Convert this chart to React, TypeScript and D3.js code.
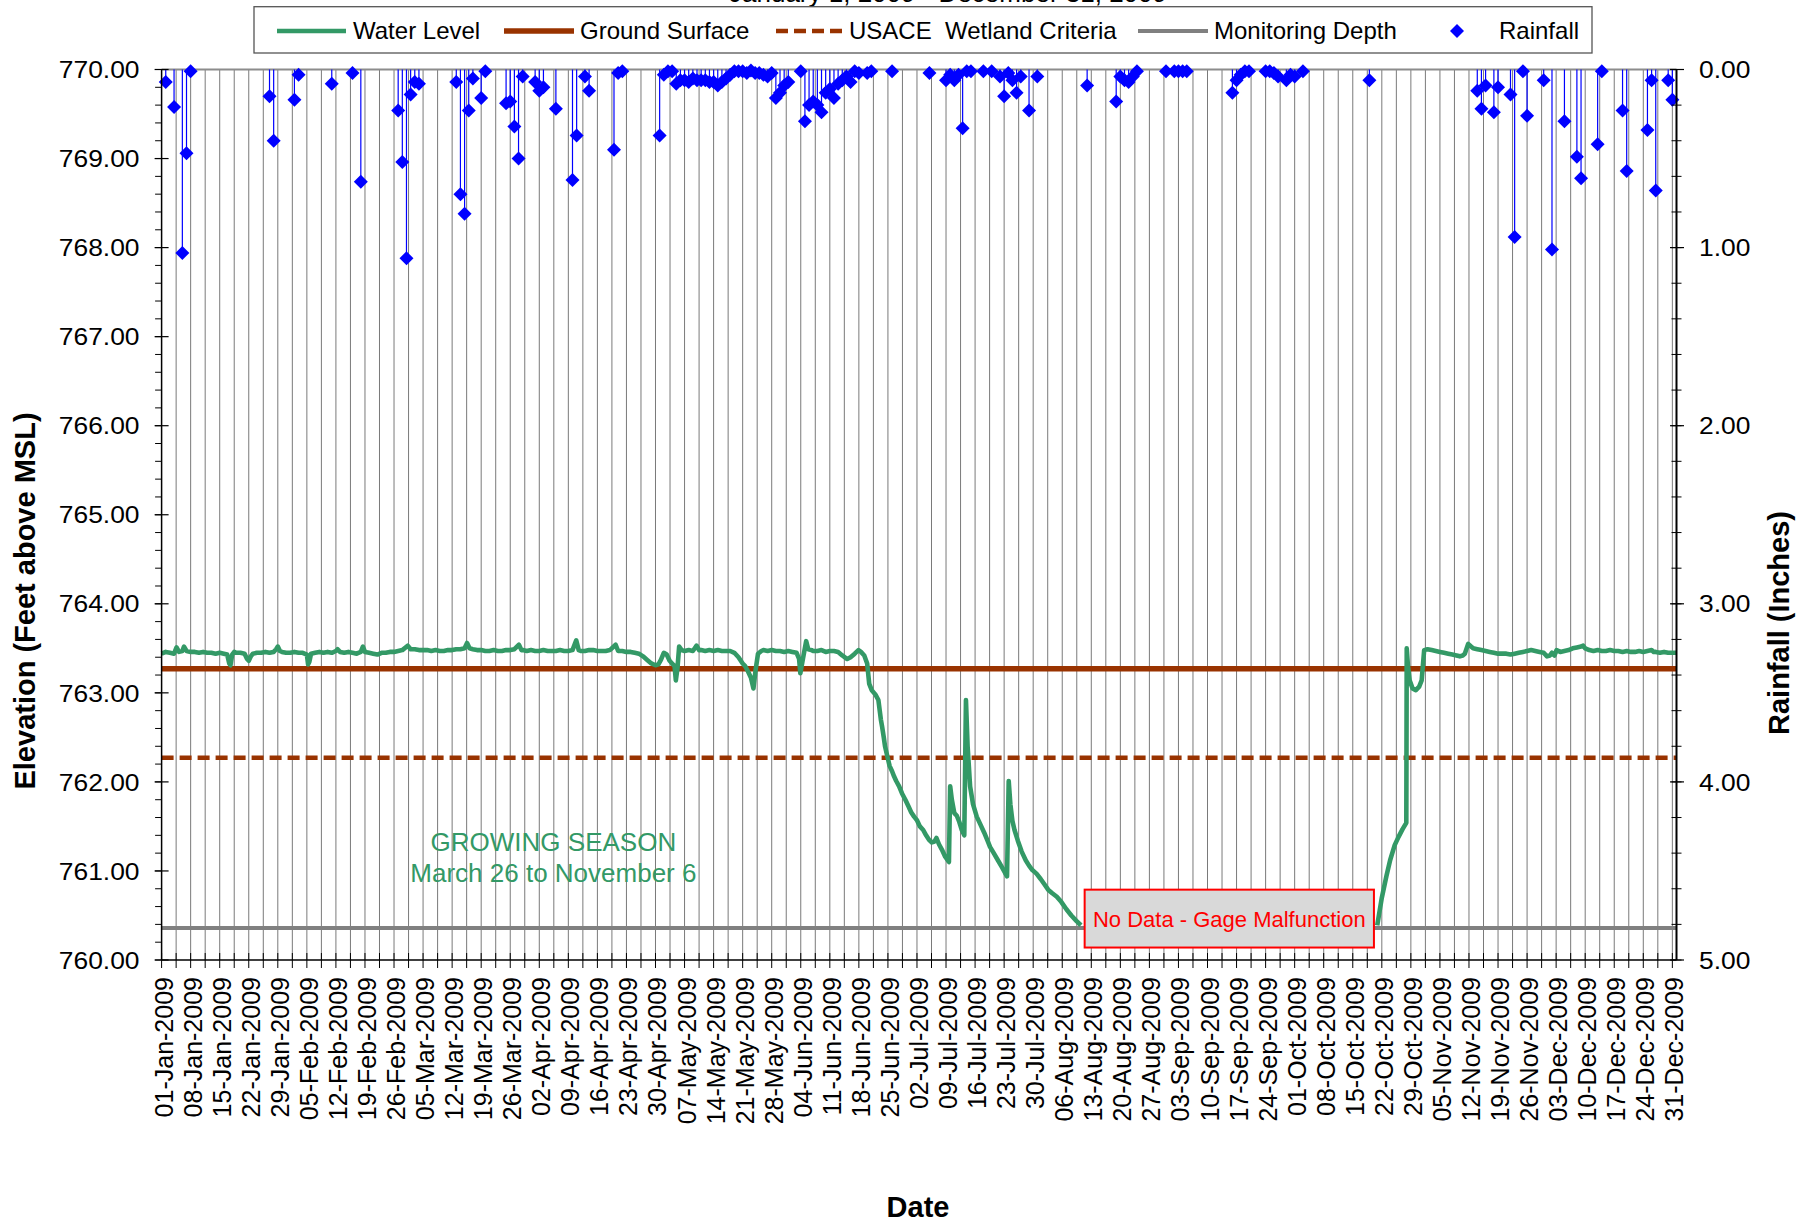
import React from "react";
import * as d3 from "d3";

const FONT = "'Liberation Sans', Arial, Helvetica, sans-serif";

// ---------- data ----------
// Reference elevations (feet above MSL)
const groundSurface = 763.27;
const wetlandCriteria = 762.27;
const monitoringDepth = 760.36;

// Water level: [day of year (0 = 01-Jan-2009), elevation]
const waterLevelBeforeGap: [number, number][] = [
  [0, 763.44], [1, 763.46], [2, 763.45], [3, 763.44], [3.6, 763.51], [4.2, 763.46], [5, 763.47], [5.4, 763.52],
  [6, 763.47], [7, 763.46], [8, 763.46], [9, 763.45], [10, 763.46], [11, 763.45], [12, 763.45], [13, 763.44],
  [14, 763.45], [15, 763.44], [15.8, 763.43], [16.3, 763.33], [16.6, 763.31], [17, 763.43], [17.5, 763.46],
  [18, 763.45], [19, 763.45], [20, 763.44], [20.6, 763.38], [21, 763.36], [21.5, 763.41], [22, 763.44],
  [23, 763.45], [24, 763.45], [25, 763.46], [26, 763.45], [27, 763.46], [27.6, 763.49], [28, 763.52],
  [28.5, 763.47], [29, 763.46], [30, 763.45], [31, 763.45], [32, 763.46], [33, 763.45], [34, 763.45],
  [35, 763.43], [35.3, 763.32], [35.6, 763.35], [36, 763.44], [37, 763.45], [38, 763.46], [39, 763.45],
  [40, 763.46], [41, 763.45], [42, 763.47], [42.4, 763.49], [43, 763.46], [44, 763.45], [45, 763.46],
  [46, 763.45], [47, 763.44], [48, 763.46], [48.5, 763.52], [49, 763.46], [50, 763.45], [51, 763.44],
  [52, 763.43], [53, 763.45], [54, 763.45], [55, 763.46], [56, 763.46], [57, 763.47], [58, 763.48],
  [59.3, 763.53], [60, 763.49], [61, 763.49], [62, 763.48], [63, 763.48], [64, 763.48], [65, 763.47],
  [66, 763.48], [67, 763.47], [68, 763.47], [69, 763.48], [70, 763.48], [71, 763.49], [72, 763.49],
  [73, 763.5], [73.6, 763.56], [74.2, 763.5], [75, 763.49], [76, 763.48], [77, 763.48], [78, 763.47],
  [79, 763.47], [80, 763.48], [81, 763.47], [82, 763.47], [83, 763.48], [84, 763.48], [85, 763.49],
  [86.1, 763.54], [86.7, 763.48], [87, 763.48], [88, 763.47], [89, 763.48], [90, 763.47], [91, 763.47],
  [92, 763.48], [93, 763.47], [94, 763.47], [95, 763.47], [96, 763.48], [97, 763.47], [98, 763.47],
  [99, 763.48], [99.9, 763.59], [100.5, 763.48], [101, 763.47], [102, 763.47], [103, 763.48], [104, 763.48],
  [105, 763.47], [106, 763.47], [107, 763.47], [108, 763.48], [109.4, 763.54], [110, 763.47], [111, 763.47],
  [112, 763.46], [113, 763.46], [114, 763.45], [115, 763.44], [116, 763.41], [117, 763.37], [118, 763.33],
  [119, 763.31], [119.7, 763.32], [120.3, 763.37], [121, 763.45], [121.7, 763.43], [122.4, 763.36],
  [123, 763.33], [123.6, 763.3], [123.9, 763.14], [124.3, 763.28], [124.7, 763.52], [125.3, 763.48],
  [126, 763.47], [127, 763.48], [128, 763.47], [128.9, 763.53], [129.5, 763.48], [130, 763.48], [131, 763.47],
  [132, 763.48], [133, 763.47], [134, 763.48], [135, 763.47], [136, 763.47], [137, 763.47], [138, 763.45],
  [139, 763.4], [140, 763.33], [140.6, 763.3], [141.3, 763.24], [142, 763.17], [142.6, 763.05], [143.1, 763.25],
  [143.7, 763.44], [144.5, 763.47], [145, 763.48], [146, 763.47], [147, 763.48], [148, 763.47], [149, 763.47],
  [150, 763.46], [151, 763.47], [152, 763.46], [153, 763.45], [153.6, 763.38], [153.9, 763.22], [154.4, 763.35],
  [155.3, 763.58], [155.8, 763.49], [156.6, 763.48], [157, 763.47], [158, 763.47], [159, 763.48], [160, 763.46],
  [161, 763.47], [162, 763.47], [163, 763.46], [164, 763.42], [165.2, 763.38], [166, 763.4], [167, 763.44],
  [167.9, 763.48], [168.5, 763.46], [169.3, 763.42], [170, 763.33], [170.5, 763.1], [171.1, 763.03],
  [172, 762.98], [172.7, 762.92], [173.3, 762.7], [173.6, 762.62], [174, 762.5], [174.3, 762.4], [174.8, 762.3],
  [175.4, 762.18], [176, 762.12], [176.5, 762.06], [177, 762.01], [177.7, 761.95], [178.4, 761.87],
  [179.2, 761.8], [180, 761.72], [180.6, 761.66], [181.3, 761.61], [182, 761.57], [182.7, 761.5],
  [183.5, 761.46], [184.2, 761.4], [184.9, 761.35], [185.6, 761.32], [186.2, 761.33], [186.7, 761.37],
  [187.3, 761.3], [188, 761.24], [188.8, 761.16], [189.7, 761.1], [190.0, 761.95], [190.4, 761.8],
  [191, 761.65], [191.6, 761.62], [192.2, 761.55], [192.8, 761.46], [193.4, 761.4], [193.8, 762.92],
  [194.2, 762.4], [194.8, 761.95], [195.5, 761.75], [196.4, 761.61], [197.3, 761.52], [198.2, 761.43],
  [199, 761.34], [199.6, 761.27], [200.5, 761.2], [201.5, 761.12], [202.5, 761.04], [203.2, 760.98],
  [203.7, 760.94], [204.1, 762.01], [204.5, 761.75], [205, 761.56], [205.5, 761.46], [206.3, 761.34],
  [207.2, 761.22], [208.2, 761.12], [209, 761.06], [209.8, 761.01], [210.8, 760.97], [211.8, 760.91],
  [212.7, 760.85], [213.6, 760.79], [214.6, 760.75], [215.7, 760.71], [216.8, 760.65], [218, 760.57],
  [219.2, 760.5], [220.4, 760.44], [221.5, 760.39],
];

const waterLevelAfterGap: [number, number][] = [
  [292.9, 760.39], [294, 760.7], [295.1, 760.94], [296, 761.12], [297.1, 761.29], [298, 761.38], [299, 761.47],
  [299.9, 761.54], [300.0, 763.5], [300.3, 763.3], [300.7, 763.14], [301.4, 763.05], [302.2, 763.03],
  [303, 763.07], [303.6, 763.14], [304.2, 763.48], [305, 763.49], [306, 763.48], [307, 763.47], [308, 763.46],
  [309, 763.45], [310, 763.44], [311, 763.43], [312, 763.42], [312.8, 763.41], [313.5, 763.42], [314, 763.44],
  [314.8, 763.55], [315.5, 763.52], [316, 763.5], [317, 763.49], [318, 763.48], [319, 763.47], [320, 763.46],
  [321, 763.45], [322, 763.44], [323, 763.44], [324, 763.44], [325, 763.43], [326, 763.44], [327, 763.45],
  [328, 763.46], [329, 763.47], [330, 763.48], [331, 763.47], [332, 763.46], [333, 763.45], [333.8, 763.41],
  [334.5, 763.42], [335, 763.45], [335.6, 763.42], [336.1, 763.48], [337, 763.46], [338, 763.47],
  [339, 763.48], [340, 763.5], [341, 763.51], [342, 763.52], [342.5, 763.53], [343, 763.5], [344, 763.48],
  [345, 763.47], [346, 763.48], [347, 763.47], [348, 763.47], [349, 763.48], [350, 763.47], [351, 763.47],
  [352, 763.46], [353, 763.47], [354, 763.46], [355, 763.46], [356, 763.47], [357, 763.46], [358, 763.47],
  [359, 763.48], [359.5, 763.46], [360, 763.46], [361, 763.45], [362, 763.46], [363, 763.45], [364, 763.45],
  [365, 763.45],
];

// Daily rainfall: [day of year, inches]
const rainfall: [number, number][] = [
  [1, 0.07], [3, 0.21], [5, 1.03], [6, 0.47], [7, 0.01], [26, 0.15], [27, 0.4], [32, 0.17], [33, 0.03],
  [41, 0.08], [46, 0.02], [48, 0.63], [57, 0.23], [58, 0.52], [59, 1.06], [60, 0.14], [61, 0.07], [62, 0.08],
  [71, 0.07], [72, 0.7], [73, 0.81], [74, 0.23], [75, 0.05], [77, 0.16], [78, 0.01], [83, 0.19], [84, 0.18],
  [85, 0.32], [86, 0.5], [87, 0.04], [90, 0.07], [91, 0.12], [92, 0.1], [95, 0.22], [99, 0.62], [100, 0.37],
  [102, 0.04], [103, 0.12], [109, 0.45], [110, 0.02], [111, 0.01],
  [120, 0.37], [121, 0.03], [122, 0.01], [123, 0.01], [124, 0.08], [125, 0.06], [126, 0.06], [127, 0.07],
  [128, 0.05], [129, 0.06], [130, 0.06], [131, 0.06], [132, 0.07], [133, 0.07], [134, 0.09], [135, 0.07],
  [136, 0.05], [137, 0.03], [138, 0.01], [139, 0.01], [140, 0.01], [141, 0.02], [142, 0.005], [143, 0.02],
  [144, 0.02], [145, 0.03], [146, 0.04], [147, 0.02], [148, 0.16], [149, 0.13], [150, 0.09], [151, 0.07],
  [154, 0.01], [155, 0.29], [156, 0.2], [157, 0.18], [158, 0.2], [159, 0.24], [160, 0.13], [161, 0.11],
  [162, 0.16], [163, 0.08], [164, 0.06], [165, 0.04], [166, 0.07], [167, 0.01], [168, 0.02], [170, 0.02],
  [171, 0.01], [176, 0.01], [185, 0.02],
  [189, 0.06], [190, 0.03], [191, 0.06], [192, 0.03], [193, 0.33], [194, 0.01], [195, 0.01], [198, 0.01],
  [200, 0.01], [202, 0.04], [203, 0.15], [204, 0.02], [205, 0.06], [206, 0.13], [207, 0.04], [209, 0.23],
  [211, 0.04], [223, 0.09], [230, 0.18], [231, 0.04], [232, 0.06], [233, 0.07], [234, 0.04], [235, 0.01],
  [242, 0.01], [244, 0.01], [245, 0.01], [246, 0.01], [247, 0.01], [258, 0.13], [259, 0.06], [260, 0.03],
  [261, 0.01], [262, 0.01], [266, 0.01], [267, 0.01], [268, 0.02], [269, 0.04], [271, 0.06], [272, 0.03],
  [273, 0.04], [275, 0.01], [291, 0.06],
  [317, 0.12], [318, 0.22], [319, 0.09], [321, 0.24], [322, 0.1], [325, 0.14], [326, 0.94], [328, 0.01],
  [329, 0.26], [333, 0.06], [335, 1.01], [338, 0.29], [341, 0.49], [342, 0.61], [346, 0.42], [347, 0.01],
  [352, 0.23], [353, 0.57], [358, 0.34], [359, 0.06], [360, 0.68], [363, 0.06], [364, 0.17],
];

// Axis ticks
const elevationTicks = d3.range(760, 770.001, 1);
const elevationMinorTicks = d3.range(760, 770.001, 0.2);
const rainTicks = d3.range(0, 5.001, 1);
const rainMinorTicks = d3.range(0, 5.001, 0.2);
const dayGridTicks = d3.range(0, 364.01, 3.5);
const dayLabelTicks = d3.range(0, 364.01, 7);
const startDate = new Date(2009, 0, 1);

// Annotations (in data units)
const noDataBox = { fromDay: 222.4, toDay: 292.1, top: 760.79, bottom: 760.14, text: "No Data - Gage Malfunction" };
const growingSeason = { day: 94.4, lines: ["GROWING SEASON", "March 26 to November 6"], y1: 761.227, y2: 760.879 };

const legendItems = ["Water Level", "Ground Surface", "USACE  Wetland Criteria", "Monitoring Depth", "Rainfall"];

const GREEN = "#339966";
const BROWN = "#993300";
const GRAY = "#808080";
const BLUE = "#0000ff";

const diamond = (r: number) => `M0,${-r}L${r},0L0,${r}L${-r},0Z`;

export default function App() {
  const x = d3.scaleLinear().domain([0, 365]).range([161.6, 1676.5]);
  const yL = d3.scaleLinear().domain([760, 770]).range([960, 69.5]);
  const yR = d3.scaleLinear().domain([0, 5]).range([69.5, 960]);
  const line = d3
    .line<[number, number]>()
    .x((d) => x(d[0]))
    .y((d) => yL(d[1]));
  const fmt = d3.timeFormat("%d-%b-%Y");
  const [x0, x1] = x.range();
  const yTop = yL(770);
  const yBot = yL(760);

  return (
    <svg
      width={1812}
      height={1225}
      style={{ position: "absolute", left: 0, top: 0, background: "#fff" }}
      fontFamily={FONT}
    >
      <rect x={0} y={0} width={1812} height={1225} fill="#fff" />
      {/* title (clipped at top, as in the original) */}
      <text x={948} y={2} fontSize={26} textAnchor="middle" fill="#000">
        January 1, 2009 - December 31, 2009
      </text>

      {/* vertical gridlines */}
      {dayGridTicks.slice(1).map((d) => (
        <line key={"g" + d} x1={x(d)} x2={x(d)} y1={yTop} y2={yBot} stroke="#7a7a7a" strokeWidth={1} />
      ))}
      {/* top border */}
      <line x1={x0} x2={x1} y1={yTop} y2={yTop} stroke="#8c8c8c" strokeWidth={2.2} />

      {/* reference lines */}
      <line x1={x0} x2={x1} y1={yL(monitoringDepth)} y2={yL(monitoringDepth)} stroke={GRAY} strokeWidth={4} />
      <line
        x1={x0}
        x2={x1}
        y1={yL(wetlandCriteria)}
        y2={yL(wetlandCriteria)}
        stroke={BROWN}
        strokeWidth={4.5}
        strokeDasharray="12 6"
      />
      <line x1={x0} x2={x1} y1={yL(groundSurface)} y2={yL(groundSurface)} stroke={BROWN} strokeWidth={5.5} />

      {/* water level */}
      <path d={line(waterLevelBeforeGap) || ""} fill="none" stroke={GREEN} strokeWidth={4.6} strokeLinejoin="round" />
      <path d={line(waterLevelAfterGap) || ""} fill="none" stroke={GREEN} strokeWidth={4.6} strokeLinejoin="round" />

      {/* rainfall stems + diamonds */}
      {rainfall.map(([d, r]) => (
        <line key={"s" + d} x1={x(d)} x2={x(d)} y1={yR(0)} y2={yR(r)} stroke={BLUE} strokeWidth={1.2} />
      ))}
      {rainfall.map(([d, r]) => (
        <path key={"p" + d} d={diamond(7)} transform={`translate(${x(d)},${yR(r)})`} fill={BLUE} />
      ))}

      {/* axes */}
      <line x1={x0} x2={x0} y1={yTop} y2={yBot} stroke="#000" strokeWidth={1.5} />
      <line x1={x1} x2={x1} y1={yTop} y2={yBot} stroke="#000" strokeWidth={2} />
      <line x1={x0} x2={x1} y1={yBot} y2={yBot} stroke="#000" strokeWidth={1.5} />

      {/* left ticks */}
      {elevationMinorTicks.map((v) => (
        <line key={"lm" + v} x1={x0 - 6.5} x2={x0} y1={yL(v)} y2={yL(v)} stroke="#000" strokeWidth={1} />
      ))}
      {elevationTicks.map((v) => (
        <g key={"l" + v}>
          <line x1={x0 - 7} x2={x0 + 7} y1={yL(v)} y2={yL(v)} stroke="#000" strokeWidth={1.2} />
          <text
            transform={`translate(139.5,${yL(v)}) scale(1.1,1)`}
            dy="0.36em"
            textAnchor="end"
            fontSize={24}
            fill="#000"
          >
            {v.toFixed(2)}
          </text>
        </g>
      ))}

      {/* right ticks */}
      {rainMinorTicks.map((v) => (
        <line key={"rm" + v} x1={x1 - 5} x2={x1 + 5} y1={yR(v)} y2={yR(v)} stroke="#000" strokeWidth={1} />
      ))}
      {rainTicks.map((v) => (
        <g key={"r" + v}>
          <line x1={x1 - 6.5} x2={x1 + 7.5} y1={yR(v)} y2={yR(v)} stroke="#000" strokeWidth={1.2} />
          <text
            transform={`translate(1699,${yR(v)}) scale(1.1,1)`}
            dy="0.36em"
            textAnchor="start"
            fontSize={24}
            fill="#000"
          >
            {v.toFixed(2)}
          </text>
        </g>
      ))}

      {/* bottom ticks */}
      {dayGridTicks.map((d) => (
        <line key={"b" + d} x1={x(d)} x2={x(d)} y1={yBot - 7} y2={yBot + 8} stroke="#000" strokeWidth={1} />
      ))}
      {dayLabelTicks.map((d) => (
        <text
          key={"bl" + d}
          transform={`translate(${x(d) + 11},977) rotate(-90)`}
          textAnchor="end"
          fontSize={25}
          fill="#000"
        >
          {fmt(d3.timeDay.offset(startDate, d))}
        </text>
      ))}

      {/* axis titles */}
      <text
        transform="translate(35,601) rotate(-90)"
        textAnchor="middle"
        fontSize={29}
        fontWeight="bold"
        fill="#000"
      >
        Elevation (Feet above MSL)
      </text>
      <text
        transform="translate(1788.5,623) rotate(-90)"
        textAnchor="middle"
        fontSize={29}
        fontWeight="bold"
        fill="#000"
      >
        Rainfall (Inches)
      </text>
      <text x={918} y={1217} textAnchor="middle" fontSize={29} fontWeight="bold" fill="#000">
        Date
      </text>

      {/* growing season note */}
      <text x={x(growingSeason.day)} y={yL(growingSeason.y1)} textAnchor="middle" fontSize={26} fill={GREEN}>
        {growingSeason.lines[0]}
      </text>
      <text x={x(growingSeason.day)} y={yL(growingSeason.y2)} textAnchor="middle" fontSize={26} fill={GREEN}>
        {growingSeason.lines[1]}
      </text>

      {/* no data box */}
      <rect
        x={x(noDataBox.fromDay)}
        y={yL(noDataBox.top)}
        width={x(noDataBox.toDay) - x(noDataBox.fromDay)}
        height={yL(noDataBox.bottom) - yL(noDataBox.top)}
        fill="#d9d9d9"
        stroke="#ff0000"
        strokeWidth={2}
      />
      <text
        x={(x(noDataBox.fromDay) + x(noDataBox.toDay)) / 2}
        y={926.5}
        textAnchor="middle"
        fontSize={22}
        fill="#ff0000"
      >
        {noDataBox.text}
      </text>

      {/* legend */}
      <rect x={254} y={6.7} width={1338} height={46.3} fill="#fff" stroke="#555" strokeWidth={1.3} />
      <line x1={277} x2={346} y1={31} y2={31} stroke={GREEN} strokeWidth={4.6} />
      <text x={353} y={38.5} fontSize={24} fill="#000">{legendItems[0]}</text>
      <line x1={504} x2={574} y1={31} y2={31} stroke={BROWN} strokeWidth={5.5} />
      <text x={580} y={38.5} fontSize={24} fill="#000">{legendItems[1]}</text>
      <line x1={776} x2={842} y1={31} y2={31} stroke={BROWN} strokeWidth={4.5} strokeDasharray="12 6" />
      <text x={849} y={38.5} fontSize={24} fill="#000" style={{ whiteSpace: "pre" }}>{legendItems[2]}</text>
      <line x1={1138} x2={1208} y1={31} y2={31} stroke={GRAY} strokeWidth={4} />
      <text x={1214} y={38.5} fontSize={24} fill="#000">{legendItems[3]}</text>
      <path d={diamond(7)} transform="translate(1457,31)" fill={BLUE} />
      <text x={1499} y={38.5} fontSize={24} fill="#000">{legendItems[4]}</text>
    </svg>
  );
}
